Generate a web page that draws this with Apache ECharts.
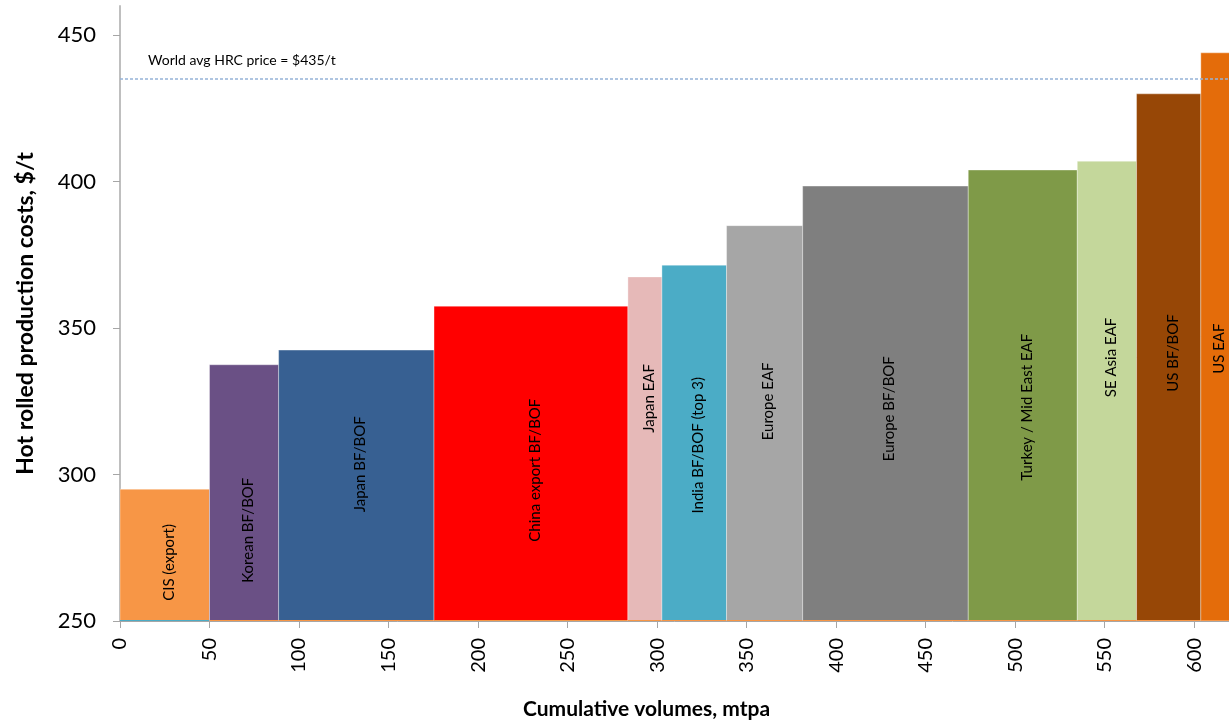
<!DOCTYPE html>
<html>
<head>
<meta charset="utf-8">
<title>Hot rolled production cost curve</title>
<script src="https://cdn.jsdelivr.net/npm/echarts@6/dist/echarts.min.js"></script>
<style>
  html, body { margin: 0; padding: 0; background: #ffffff; }
  #chart { width: 1229px; height: 720px; }
</style>
</head>
<body>
<div id="chart"></div>
<script>
// Producer groups, ordered along the cost curve
const producers = [
  'CIS (export)', 'Korean BF/BOF', 'Japan BF/BOF', 'China export BF/BOF',
  'Japan EAF', 'India BF/BOF (top 3)', 'Europe EAF', 'Europe BF/BOF',
  'Turkey / Mid East EAF', 'SE Asia EAF', 'US BF/BOF', 'US EAF'
];
// Capacity of each group, mtpa (bar widths)
const volumes = [50, 38.6, 86.8, 108.3, 19, 36.1, 42.5, 92.5, 60.9, 33.1, 35.9, 16.3];
// Hot rolled production cost of each group, $/t (bar heights)
const costs = [295, 337.5, 342.5, 357.5, 367.5, 371.5, 385, 398.5, 404, 407, 430, 444];
// Reference price line
const worldAvgPrice = 435;
// Axis ticks
const xTicks = [0, 50, 100, 150, 200, 250, 300, 350, 400, 450, 500, 550, 600];
const yTicks = [250, 300, 350, 400, 450];

// ---- styling ----
const colors = [
  '#F79646', '#6A5085', '#376092', '#FF0000',
  '#E6B9B8', '#4BACC6', '#A6A6A6', '#7F7F7F',
  '#7F9A48', '#C4D79B', '#974706', '#E46C0A'
];
// Height (in $/t) at which each group's name is centred
const labelAnchors = [270, 281, 303.5, 301.5, 326, 310, 325, 322.5, 323, 340, 341.5, 343];
const FONT = 'Lato, "Liberation Sans", sans-serif';
const Y_MIN = 250, Y_MAX = 460, X_MAX = 620;

// Build [start, end, cost] blocks from the cumulative volumes
let running = 0;
const blocks = volumes.map((v, i) => {
  const start = running;
  running += v;
  return [start, running, costs[i]];
});

const chart = echarts.init(document.getElementById('chart'), null, { renderer: 'canvas' });

chart.setOption({
  animation: false,
  backgroundColor: '#ffffff',
  grid: {
    left: 120, right: -1, top: 6, bottom: 99,
    containLabel: false,
    outerBoundsMode: 'none'
  },
  xAxis: {
    type: 'value',
    min: 0, max: X_MAX, interval: 50,
    name: 'Cumulative volumes, mtpa',
    nameLocation: 'middle',
    nameGap: 78,
    nameTextStyle: {
      fontFamily: FONT, fontWeight: 'bold', fontSize: 21, color: '#000',
      padding: [0, 57, 0, 0]
    },
    axisLine: { show: true, lineStyle: { color: '#A6A6A6', width: 1 } },
    axisTick: { show: true, inside: false, length: 7, customValues: xTicks, lineStyle: { color: '#A6A6A6' } },
    axisLabel: {
      customValues: xTicks,
      rotate: 90, margin: 17,
      fontFamily: FONT, fontSize: 20, color: '#000'
    },
    splitLine: { show: false }
  },
  yAxis: {
    type: 'value',
    min: Y_MIN, max: Y_MAX, interval: 50,
    name: 'Hot rolled production costs, $/t',
    nameLocation: 'middle',
    nameGap: 83,
    nameTextStyle: { fontFamily: FONT, fontWeight: 'bold', fontSize: 23, color: '#000' },
    axisLine: { show: true, lineStyle: { color: '#BFBFBF', width: 2 } },
    axisTick: { show: true, inside: false, length: 7, customValues: yTicks, lineStyle: { color: '#A6A6A6' } },
    axisLabel: {
      customValues: yTicks,
      margin: 24,
      fontFamily: FONT, fontSize: 22, color: '#000'
    },
    splitLine: { show: false }
  },
  series: [
    {
      type: 'custom',
      data: blocks,
      encode: { x: [0, 1], y: 2 },
      clip: true,
      renderItem: function (params, api) {
        const i = params.dataIndex;
        const x0 = api.value(0), x1 = api.value(1), c = api.value(2);
        const topLeft = api.coord([x0, c]);
        const bottomRight = api.coord([x1, Y_MIN]);
        const mid = api.coord([(x0 + x1) / 2, labelAnchors[i]]);
        const w = bottomRight[0] - topLeft[0];
        const h = bottomRight[1] - topLeft[1];
        return {
          type: 'group',
          children: [
            {
              type: 'rect',
              shape: { x: topLeft[0], y: topLeft[1], width: w, height: h },
              style: { fill: colors[i], stroke: 'rgba(255,255,255,0.35)', lineWidth: 1 }
            },
            {
              // thin base strip along the volume axis
              type: 'line',
              shape: { x1: topLeft[0], y1: bottomRight[1], x2: bottomRight[0], y2: bottomRight[1] },
              style: { stroke: i === 0 ? '#4BACC6' : '#F79646', lineWidth: 2 }
            },
            {
              type: 'text',
              x: mid[0] + 4, y: mid[1],
              rotation: Math.PI / 2,
              style: {
                text: producers[i],
                fill: '#000',
                font: '15px ' + FONT,
                align: 'center',
                verticalAlign: 'middle'
              }
            }
          ]
        };
      },
      markLine: {
        silent: true,
        symbol: ['none', 'none'],
        lineStyle: { color: '#95B3D7', type: [3, 2], width: 1.5 },
        label: {
          show: true,
          position: 'insideStartTop',
          distance: [28, 12],
          formatter: 'World avg HRC price = $' + worldAvgPrice + '/t',
          fontFamily: FONT, fontSize: 14, color: '#000'
        },
        data: [{ yAxis: worldAvgPrice }]
      }
    }
  ]
});
</script>
</body>
</html>
